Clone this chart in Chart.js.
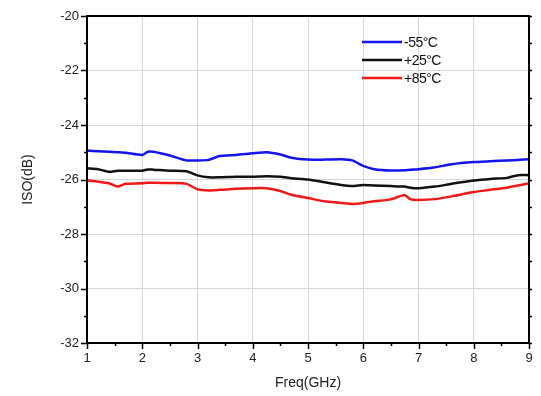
<!DOCTYPE html><html lang="en"><head><meta charset="utf-8"/>
<title>ISO vs Freq</title>
<script src="https://cdn.jsdelivr.net/npm/chart.js@4.4.1/dist/chart.umd.min.js"></script>
<style>
  *{box-sizing:border-box}
  body{margin:0;background:#fff}
  #wrap{width:541px;height:396px}
</style></head><body>
<div id="wrap"><canvas id="c" width="541" height="396"></canvas></div>
<script>
const freq = [1.0,1.2,1.4,1.55,1.7,2.0,2.1,2.2,2.5,2.8,3.0,3.2,3.4,3.7,4.0,4.25,4.5,4.7,5.0,5.3,5.6,5.8,6.0,6.2,6.5,6.75,6.85,7.0,7.3,7.6,8.0,8.3,8.6,8.8,9.0];
const isoM55 = [-24.94,-24.96,-24.98,-25.0,-25.02,-25.1,-24.98,-24.98,-25.12,-25.3,-25.3,-25.28,-25.14,-25.1,-25.04,-25.0,-25.08,-25.2,-25.27,-25.27,-25.26,-25.3,-25.5,-25.62,-25.67,-25.66,-25.64,-25.62,-25.55,-25.44,-25.36,-25.33,-25.3,-25.28,-25.26];
const isoP25 = [-25.59,-25.62,-25.72,-25.68,-25.68,-25.68,-25.63,-25.64,-25.68,-25.7,-25.85,-25.92,-25.92,-25.9,-25.9,-25.88,-25.9,-25.95,-26.0,-26.1,-26.2,-26.24,-26.2,-26.22,-26.24,-26.26,-26.3,-26.32,-26.26,-26.16,-26.04,-25.98,-25.94,-25.84,-25.84];
const isoP85 = [-26.04,-26.08,-26.14,-26.26,-26.16,-26.14,-26.12,-26.12,-26.13,-26.16,-26.36,-26.4,-26.38,-26.34,-26.32,-26.32,-26.42,-26.56,-26.68,-26.8,-26.86,-26.9,-26.86,-26.8,-26.73,-26.57,-26.72,-26.75,-26.72,-26.62,-26.46,-26.38,-26.3,-26.22,-26.14];
const seriesNames = ['-55\u00b0C','+25\u00b0C','+85\u00b0C'];
const seriesColors = ['#1414f0','#111111','#f01818'];
const xTicks = [1,2,3,4,5,6,7,8,9];
const yTicks = [-32,-30,-28,-26,-24,-22,-20];

const FONT = '"Liberation Sans", Arial, sans-serif';
const pts = arr => freq.map((f,i)=>({x:f,y:arr[i]}));

// tick marks (major + minor) and legend, drawn over the plot
const decor = {
  id:'decor',
  afterDraw(chart){
    const {ctx, chartArea:a, scales:{x,y}} = chart;
    ctx.save();
    ctx.strokeStyle = '#000'; ctx.lineWidth = 1.5;
    ctx.beginPath();
    for(let v=1; v<=9.001; v+=0.5){
      const px = Math.round(x.getPixelForValue(v))+0.5, len = Number.isInteger(v)?6:3;
      ctx.moveTo(px,a.bottom); ctx.lineTo(px,a.bottom+len);
    }
    for(let v=-32; v<=-19.999; v+=1){
      const py = Math.round(y.getPixelForValue(v))+0.5, len = v%2===0?6:3;
      ctx.moveTo(a.left,py); ctx.lineTo(a.left-len,py);
      ctx.moveTo(a.right,py); ctx.lineTo(a.right+3,py);
    }
    ctx.stroke();
    ctx.lineWidth = 2;
    ctx.strokeRect(a.left,a.top,a.right-a.left,a.bottom-a.top);
    // legend
    ctx.font = '14px '+FONT;
    ctx.textBaseline = 'middle';
    ctx.letterSpacing = '-0.5px';
    chart.data.datasets.forEach((ds,i)=>{
      const ly = 42 + i*18;
      ctx.strokeStyle = ds.borderColor; ctx.lineWidth = 2.5;
      ctx.beginPath(); ctx.moveTo(362,ly); ctx.lineTo(402,ly); ctx.stroke();
      ctx.fillStyle = '#111'; ctx.fillText(ds.label,404,ly+1);
    });
    ctx.restore();
  }
};

new Chart(document.getElementById('c'), {
  type:'line',
  data:{datasets:[isoM55,isoP25,isoP85].map((d,i)=>({
    label:seriesNames[i], data:pts(d), borderColor:seriesColors[i], borderWidth:2.5,
    pointRadius:0, tension:0.2, fill:false
  }))},
  options:{
    responsive:false, animation:false,
    layout:{padding:{top:16,right:12,left:0,bottom:0}},
    plugins:{legend:{display:false}, tooltip:{enabled:false}},
    scales:{
      x:{type:'linear', min:1, max:9,
        afterBuildTicks:s=>{s.ticks = xTicks.map(v=>({value:v}));},
        afterFit:s=>{s.height = 53;},
        grid:{color:'#d6d6d6', lineWidth:1, drawTicks:false},
        border:{display:false},
        ticks:{color:'#222', font:{family:FONT,size:13}, padding:8},
        title:{display:true, text:'Freq(GHz)', color:'#222', font:{family:FONT,size:14}, padding:{top:4}}
      },
      y:{min:-32, max:-20,
        afterBuildTicks:s=>{s.ticks = yTicks.map(v=>({value:v}));},
        afterFit:s=>{s.width = 87;},
        grid:{color:'#d6d6d6', lineWidth:1, drawTicks:false},
        border:{display:false},
        ticks:{color:'#222', font:{family:FONT,size:13}, padding:8},
        title:{display:true, text:'ISO(dB)', color:'#222', font:{family:FONT,size:14}, padding:{top:20,bottom:4}}
      }
    }
  },
  plugins:[decor]
});
</script></body></html>
